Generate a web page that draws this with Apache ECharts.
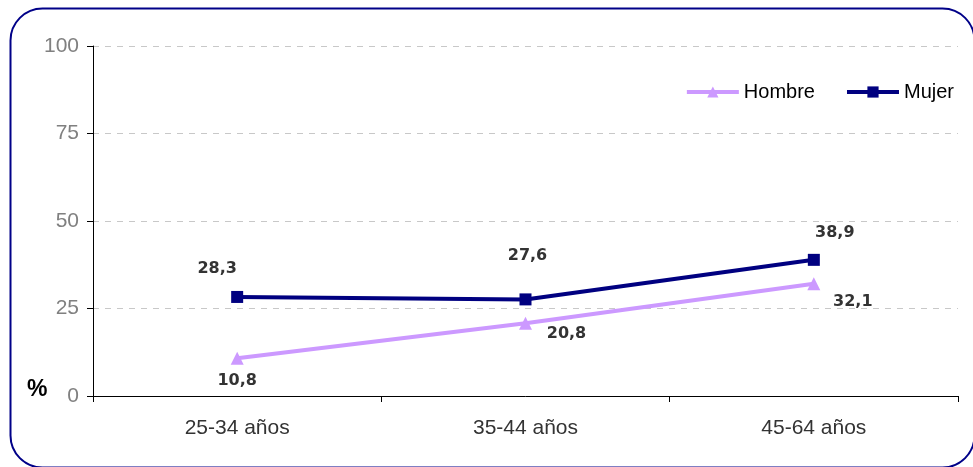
<!DOCTYPE html>
<html>
<head>
<meta charset="utf-8">
<script src="https://cdn.jsdelivr.net/npm/echarts@6/dist/echarts.min.js"></script>
<style>
  html, body { margin: 0; padding: 0; background: #fff; }
  #chart { width: 973px; height: 467px; }
</style>
</head>
<body>
<div id="chart"></div>
<script>
const categories = ['25-34 años', '35-44 años', '45-64 años']
const hombre = [10.8, 20.8, 32.1]
const mujer = [28.3, 27.6, 38.9]
const yTicks = [0, 25, 50, 75, 100]

// label offsets relative to each point
const hombreOffsets = [[0, 23], [41, 11], [39, 18]]
const mujerOffsets = [[-20, -28], [2, -44], [21, -27]]

const fmt = v => String(v).replace('.', ',')

const labelStyle = {
  show: true,
  position: 'inside',
  fontFamily: 'DejaVu Sans',
  fontWeight: 'bold',
  fontSize: 16,
  color: '#333333',
  formatter: p => fmt(p.value)
}

const withOffsets = (vals, offs) => vals.map((v, i) => ({
  value: v,
  label: { offset: offs[i] }
}))

const chart = echarts.init(document.getElementById('chart'), null, { renderer: 'canvas' })

chart.setOption({
  animation: false,
  backgroundColor: '#fff',
  textStyle: { fontFamily: 'Liberation Sans, Arial, sans-serif' },
  graphic: [
    {
      type: 'rect',
      left: 8, top: 6,
      shape: { width: 964, height: 459, r: 32 },
      style: { fill: 'none', stroke: '#000088', lineWidth: 2 },
      z: -1
    },
    {
      type: 'text',
      left: 27, top: 378,
      style: { text: '%', font: 'bold 23px Liberation Sans', fill: '#000' }
    }
  ],
  legend: {
    right: 14,
    top: 77,
    itemWidth: 52,
    itemHeight: 14,
    itemGap: 30,
    lineStyle: { width: 4 },
    textStyle: { fontSize: 20, color: '#000', fontFamily: 'Liberation Sans' },
    data: ['Hombre', 'Mujer']
  },
  grid: { left: 93, right: 15, top: 46, bottom: 71 },
  xAxis: {
    type: 'category',
    data: categories,
    boundaryGap: true,
    axisLine: { lineStyle: { color: '#000', width: 1 } },
    axisTick: { show: true, length: 6, lineStyle: { color: '#000' } },
    axisLabel: { fontSize: 21, color: '#333', margin: 22, fontFamily: 'Liberation Sans' }
  },
  yAxis: {
    type: 'value',
    min: yTicks[0],
    max: yTicks[yTicks.length - 1],
    interval: 25,
    axisLine: { show: true, lineStyle: { color: '#000', width: 1 } },
    axisTick: { show: true, length: 6, lineStyle: { color: '#000' } },
    axisLabel: { fontSize: 21, color: '#808080', margin: 14, fontFamily: 'Liberation Sans' },
    splitLine: { lineStyle: { color: '#c8c8c8', type: [6, 6] } }
  },
  series: [
    {
      name: 'Hombre',
      type: 'line',
      data: withOffsets(hombre, hombreOffsets),
      symbol: 'triangle',
      symbolSize: 13,
      itemStyle: { color: '#cc99ff' },
      lineStyle: { color: '#cc99ff', width: 4 },
      label: labelStyle
    },
    {
      name: 'Mujer',
      type: 'line',
      data: withOffsets(mujer, mujerOffsets),
      symbol: 'rect',
      symbolSize: 12,
      itemStyle: { color: '#000080' },
      lineStyle: { color: '#000080', width: 4 },
      label: labelStyle
    }
  ]
})
</script>
</body>
</html>
